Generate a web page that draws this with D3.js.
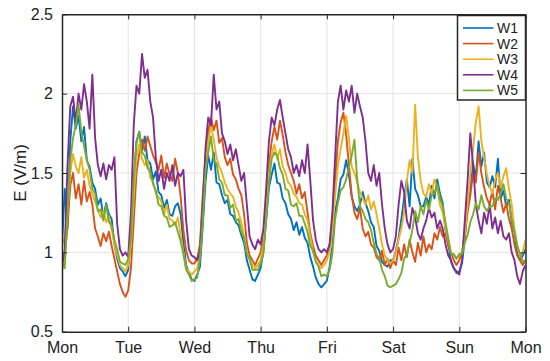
<!DOCTYPE html>
<html><head><meta charset="utf-8">
<script src="https://cdn.jsdelivr.net/npm/d3@7"></script>
<style>body{margin:0;background:#fff}svg{display:block}text{font-family:"Liberation Sans",Arial,sans-serif}</style>
</head><body><svg id="c" width="550" height="361"></svg>
<script>
const dayLabels = ["Mon","Tue","Wed","Thu","Fri","Sat","Sun","Mon"];
const yTicks = [0.5, 1, 1.5, 2, 2.5];
const seriesNames = ["W1","W2","W3","W4","W5"];
const seriesColors = ["#0072BD","#D95319","#EDB120","#7E2F8E","#77AC30"];
// hourly values, Mon 00:00 .. next Mon 00:00 (169 points)
const W1 = [1.05,1.40,1.15,1.70,1.92,1.78,1.86,1.70,1.79,1.58,1.54,1.44,1.40,1.30,1.34,1.22,1.31,1.24,1.21,1.05,0.96,0.90,0.88,0.85,
0.89,1.10,1.46,1.70,1.76,1.64,1.73,1.58,1.56,1.46,1.51,1.38,1.36,1.28,1.33,1.24,1.23,1.29,1.31,1.24,1.06,0.92,0.87,0.83,
0.82,0.86,0.91,1.16,1.44,1.61,1.52,1.63,1.44,1.43,1.36,1.31,1.33,1.24,1.23,1.19,1.17,1.11,1.06,0.95,0.89,0.83,0.82,0.86,
0.90,1.01,1.20,1.41,1.49,1.56,1.44,1.43,1.34,1.31,1.24,1.21,1.14,1.19,1.11,1.16,1.09,1.06,0.97,0.91,0.84,0.80,0.78,0.80,
0.82,0.91,1.04,1.26,1.34,1.46,1.49,1.58,1.49,1.35,1.29,1.26,1.30,1.38,1.31,1.26,1.19,1.16,1.04,1.01,0.94,0.92,0.91,0.95,
0.95,1.01,1.09,1.21,1.34,1.46,1.29,1.59,1.40,1.36,1.29,1.29,1.35,1.30,1.42,1.34,1.46,1.37,1.31,1.14,1.06,0.94,0.90,0.87,
0.88,0.93,1.09,1.31,1.39,1.56,1.47,1.70,1.54,1.63,1.44,1.41,1.48,1.41,1.59,1.34,1.39,1.29,1.33,1.19,1.13,0.99,0.95,0.98,1.02];
const W2 = [0.95,0.98,1.16,1.42,1.50,1.34,1.43,1.30,1.45,1.32,1.38,1.30,1.15,1.10,1.04,1.12,1.07,1.13,1.04,0.96,0.88,0.80,0.75,0.72,
0.76,0.90,1.20,1.50,1.62,1.71,1.64,1.73,1.67,1.61,1.57,1.52,1.61,1.47,1.56,1.49,1.45,1.59,1.50,1.35,1.14,1.01,0.95,0.93,
0.93,0.96,1.05,1.35,1.60,1.76,1.85,1.77,1.83,1.69,1.72,1.60,1.55,1.59,1.49,1.46,1.40,1.36,1.24,1.06,0.98,0.95,0.92,0.96,
1.00,1.10,1.30,1.55,1.70,1.79,1.71,1.83,1.74,1.63,1.55,1.50,1.45,1.37,1.43,1.34,1.38,1.25,1.12,1.04,0.98,0.95,0.92,0.95,
0.98,1.05,1.20,1.45,1.70,1.82,1.88,1.74,1.55,1.36,1.25,1.21,1.28,1.15,1.10,1.13,1.05,1.03,0.97,0.95,1.01,0.92,0.96,0.90,
0.95,0.92,1.03,0.95,1.05,0.97,1.08,1.00,0.94,1.06,0.98,1.10,1.00,1.05,1.02,1.12,1.08,1.16,1.10,1.12,1.04,1.00,0.95,0.92,
0.95,1.00,1.10,1.25,1.36,1.50,1.44,1.63,1.50,1.41,1.34,1.30,1.39,1.27,1.42,1.34,1.25,1.31,1.21,1.15,1.05,0.98,0.95,0.92,0.95];
const W3 = [1.10,1.05,1.25,1.50,1.62,1.54,1.50,1.60,1.47,1.52,1.42,1.37,1.32,1.27,1.22,1.26,1.19,1.23,1.14,1.05,0.98,0.92,0.90,0.88,
0.92,1.05,1.35,1.60,1.68,1.59,1.55,1.58,1.47,1.45,1.37,1.35,1.32,1.24,1.30,1.21,1.20,1.17,1.22,1.11,1.00,0.90,0.88,0.86,
0.88,0.90,0.98,1.25,1.55,1.70,1.80,1.71,1.60,1.54,1.50,1.44,1.40,1.37,1.35,1.29,1.25,1.19,1.10,1.00,0.95,0.92,0.90,0.92,
0.95,1.05,1.25,1.50,1.62,1.68,1.59,1.65,1.54,1.50,1.44,1.42,1.37,1.35,1.31,1.30,1.24,1.20,1.10,1.00,0.95,0.92,0.90,0.92,
0.95,1.00,1.15,1.35,1.55,1.65,1.75,1.86,1.72,1.54,1.50,1.44,1.38,1.34,1.30,1.36,1.27,1.32,1.24,1.15,1.05,0.98,0.95,0.93,
0.95,1.00,1.08,1.15,1.25,1.45,1.58,1.50,1.93,1.60,1.45,1.37,1.35,1.43,1.37,1.46,1.40,1.30,1.25,1.15,1.08,1.00,0.98,0.96,
0.98,1.00,1.12,1.30,1.50,1.65,1.82,1.92,1.70,1.60,1.49,1.42,1.37,1.46,1.50,1.41,1.48,1.53,1.40,1.30,1.15,1.05,0.98,1.00,1.08];
const W4 = [0.88,1.02,1.55,1.92,1.98,1.82,2.00,1.90,2.06,1.95,1.78,2.12,1.72,1.55,1.48,1.56,1.46,1.55,1.52,1.60,1.18,1.02,0.98,1.00,
0.97,1.25,1.80,2.05,2.00,2.25,2.10,2.15,1.95,1.85,1.60,1.45,1.52,1.40,1.50,1.45,1.55,1.42,1.50,1.48,1.52,1.20,1.02,0.98,
0.97,0.95,1.00,1.30,1.65,1.85,1.80,2.12,1.90,1.95,1.75,1.70,1.62,1.68,1.58,1.65,1.55,1.45,1.50,1.30,1.10,1.05,1.02,1.08,
1.05,1.15,1.40,1.70,1.85,1.80,1.90,1.96,1.85,1.75,1.65,1.60,1.50,1.55,1.48,1.58,1.50,1.68,1.45,1.20,1.08,1.02,1.00,1.02,
1.00,1.05,1.25,1.60,1.95,2.05,1.90,2.02,1.95,2.05,1.88,2.00,1.92,1.85,1.70,1.50,1.45,1.55,1.42,1.50,1.30,1.15,1.05,1.00,
1.02,1.10,1.30,1.45,1.38,1.20,1.15,1.28,1.22,1.12,1.08,1.15,1.20,1.28,1.22,1.25,1.15,1.20,1.15,1.05,0.98,0.95,0.90,0.88,
0.86,0.95,1.20,1.45,1.75,1.55,1.30,1.20,1.12,1.25,1.18,1.30,1.15,1.22,1.12,1.20,1.10,1.08,1.12,1.00,0.95,0.85,0.80,0.88,0.92];
const W5 = [0.95,0.90,1.25,1.58,1.72,1.80,1.93,1.76,1.67,1.58,1.52,1.40,1.37,1.26,1.27,1.20,1.30,1.19,1.17,1.08,1.02,0.94,0.93,0.92,
0.96,1.09,1.46,1.69,1.76,1.63,1.61,1.53,1.51,1.43,1.39,1.30,1.29,1.23,1.22,1.16,1.17,1.19,1.13,1.07,0.99,0.89,0.86,0.82,
0.83,0.84,0.96,1.19,1.51,1.63,1.73,1.58,1.56,1.46,1.44,1.36,1.36,1.28,1.30,1.20,1.21,1.13,1.09,0.99,0.96,0.89,0.89,0.89,
0.93,0.99,1.21,1.44,1.59,1.63,1.61,1.53,1.49,1.40,1.39,1.30,1.29,1.31,1.23,1.23,1.18,1.13,1.04,1.01,0.94,0.91,0.85,0.86,
0.85,0.89,0.99,1.21,1.31,1.39,1.41,1.46,1.54,1.61,1.71,1.46,1.29,1.26,1.21,1.19,1.14,1.06,0.99,0.96,0.89,0.85,0.79,0.78,
0.79,0.80,0.83,0.87,0.96,0.99,1.06,1.14,1.26,1.19,1.29,1.24,1.33,1.27,1.36,1.37,1.43,1.34,1.29,1.19,1.09,0.99,0.99,0.96,
0.99,0.99,1.06,1.11,1.19,1.24,1.31,1.27,1.36,1.29,1.26,1.29,1.29,1.34,1.33,1.37,1.43,1.34,1.31,1.21,1.13,1.04,0.99,0.94,0.95];
const seriesValues = [W1, W2, W3, W4, W5];

const W = 550, H = 361;
const m = {left: 62, right: 24.5, top: 14.3, bottom: 29.3};
const svg = d3.select("#c");
const x = d3.scaleLinear().domain([0, 168]).range([m.left, W - m.right]);
const y = d3.scaleLinear().domain([0.5, 2.5]).range([H - m.bottom, m.top]);
const axisColor = "#262626";
const dayTicks = dayLabels.map((d, i) => i * 24);

// grid
const g = svg.append("g");
g.selectAll(".gx").data(dayTicks.slice(1, -1)).join("line")
  .attr("x1", d => x(d)).attr("x2", d => x(d)).attr("y1", y(0.5)).attr("y2", y(2.5))
  .attr("stroke", "#e3e3e3").attr("stroke-width", 1);
g.selectAll(".gy").data(yTicks.slice(1, -1)).join("line")
  .attr("y1", d => y(d)).attr("y2", d => y(d)).attr("x1", x(0)).attr("x2", x(168))
  .attr("stroke", "#e3e3e3").attr("stroke-width", 1);

// lines
const line = d3.line().x((d, i) => x(i)).y(d => y(d));
svg.append("clipPath").attr("id", "cp").append("rect")
  .attr("x", x(0)).attr("y", y(2.5)).attr("width", x(168) - x(0)).attr("height", y(0.5) - y(2.5));
svg.append("g").attr("clip-path", "url(#cp)").selectAll("path").data(seriesValues).join("path")
  .attr("d", d => line(d)).attr("fill", "none")
  .attr("stroke", (d, i) => seriesColors[i]).attr("stroke-width", 1.9).attr("stroke-linejoin", "round");

// axes
const xAxisB = d3.axisBottom(x).tickValues(dayTicks).tickFormat((d, i) => dayLabels[i]).tickSizeInner(-5).tickSizeOuter(0).tickPadding(10);
const xAxisT = d3.axisTop(x).tickValues(dayTicks).tickFormat("").tickSizeInner(-5).tickSizeOuter(0);
const yAxisL = d3.axisLeft(y).tickValues(yTicks).tickFormat(d3.format("")).tickSizeInner(-5).tickSizeOuter(0).tickPadding(9);
const yAxisR = d3.axisRight(y).tickValues(yTicks).tickFormat("").tickSizeInner(-5).tickSizeOuter(0);
function styleAxis(sel) {
  sel.select(".domain").attr("stroke", axisColor).attr("stroke-width", 1.5);
  sel.selectAll(".tick line").attr("stroke", axisColor);
  sel.selectAll("text").attr("fill", "#222").style("font-size", "16px").style("font-family", "Liberation Sans, Arial, sans-serif");
}
svg.append("g").attr("transform", `translate(0,${y(0.5)})`).call(xAxisB).call(styleAxis);
svg.append("g").attr("transform", `translate(0,${y(2.5)})`).call(xAxisT).call(styleAxis);
svg.append("g").attr("transform", `translate(${x(0)},0)`).call(yAxisL).call(styleAxis);
svg.append("g").attr("transform", `translate(${x(168)},0)`).call(yAxisR).call(styleAxis);

// y label
svg.append("text").attr("transform", `translate(26,${(y(0.5) + y(2.5)) / 2}) rotate(-90)`)
  .attr("text-anchor", "middle").attr("fill", "#222").style("font-size", "17px").text("E (V/m)");

// legend
const lg = svg.append("g");
const lx = 457.5, ly = 15.5, lw = 68, lh = 84.5;
lg.append("rect").attr("x", lx).attr("y", ly).attr("width", lw).attr("height", lh)
  .attr("fill", "#fff").attr("stroke", axisColor).attr("stroke-width", 1.5);
const rows = lg.selectAll("g.r").data(seriesNames).join("g")
  .attr("transform", (d, i) => `translate(0,${28 + i * 15.6})`);
rows.append("line").attr("x1", 463).attr("x2", 493.5).attr("y1", 0).attr("y2", 0)
  .attr("stroke", (d, i) => seriesColors[i]).attr("stroke-width", 1.6);
rows.append("text").attr("x", 497).attr("y", 0).attr("dy", "0.35em")
  .attr("fill", "#222").style("font-size", "14px").text(d => d);
</script></body></html>
